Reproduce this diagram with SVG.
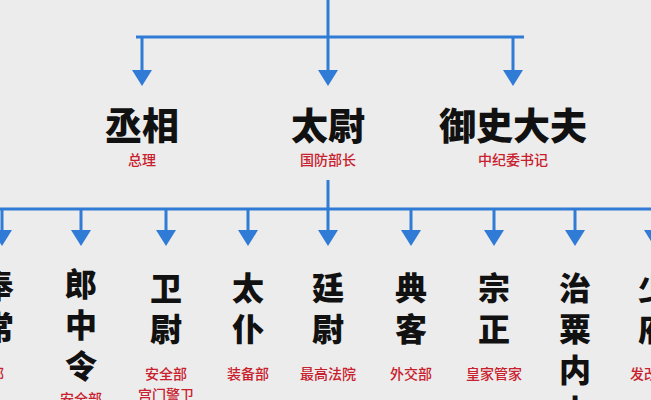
<svg xmlns="http://www.w3.org/2000/svg" width="651" height="400" viewBox="0 0 651 400">
<defs>
<style>
.ln{stroke:#2f7bd6;stroke-width:3;fill:none}
.ar{fill:#2f7bd6}
.t{font-family:"Noto Sans CJK SC",serif;font-weight:900;fill:#111;text-anchor:middle}
.big{font-size:37px}
.col{font-size:32px;writing-mode:vertical-rl;text-anchor:start;letter-spacing:9px}
.r{font-family:"Noto Sans CJK SC",sans-serif;font-size:14px;font-weight:500;fill:#c8202c;text-anchor:middle}
</style>
<path id="a" class="ar" d="M-10,0 L10,0 L0,16 Z"/>
</defs>
<rect width="651" height="400" fill="#ececec"/>
<g id="connectors">
<path class="ln" d="M328,0 V37 M136,37 H524 M142,37 V72 M328,37 V72 M513,37 V72"/>
<use href="#a" x="142" y="70"/><use href="#a" x="328" y="70"/><use href="#a" x="513" y="70"/>
<path class="ln" d="M328,180 V209 M0,209 H651 M2,209 V232 M81,209 V232 M166,209 V232 M248,209 V232 M328,209 V232 M411,209 V232 M494,209 V232 M575,209 V232 M654,209 V232"/>
<use href="#a" x="2" y="230"/><use href="#a" x="81" y="230"/><use href="#a" x="166" y="230"/><use href="#a" x="248" y="230"/><use href="#a" x="328" y="230"/><use href="#a" x="411" y="230"/><use href="#a" x="494" y="230"/><use href="#a" x="575" y="230"/><use href="#a" x="654" y="230"/>
</g>
<g id="n1"><text class="t big" x="142" y="140">丞相</text><text class="r" x="142" y="165">总理</text></g>
<g id="n2"><text class="t big" x="328" y="140">太尉</text><text class="r" x="328" y="165">国防部长</text></g>
<g id="n3"><text class="t big" x="513" y="140">御史大夫</text><text class="r" x="513" y="165">中纪委书记</text></g>
<g id="b0"><text class="t col" x="-2" y="270">奉常</text><text class="r" x="-10" y="379">礼部</text></g>
<g id="b1"><text class="t col" x="81" y="268">郎中令</text><text class="r" x="81" y="404">安全部</text></g>
<g id="b2"><text class="t col" x="166" y="272">卫尉</text><text class="r" x="166" y="379">安全部</text><text class="r" x="166" y="400">宫门警卫</text></g>
<g id="b3"><text class="t col" x="248" y="272">太仆</text><text class="r" x="248" y="379">装备部</text></g>
<g id="b4"><text class="t col" x="328" y="272">廷尉</text><text class="r" x="328" y="379">最高法院</text></g>
<g id="b5"><text class="t col" x="411" y="272">典客</text><text class="r" x="411" y="379">外交部</text></g>
<g id="b6"><text class="t col" x="494" y="272">宗正</text><text class="r" x="494" y="379">皇家管家</text></g>
<g id="b7"><text class="t col" x="575" y="272">治粟内史</text></g>
<g id="b8"><text class="t col" x="654" y="272">少府</text><text class="r" x="630" y="379" style="text-anchor:start">发改委</text></g>
</svg>
